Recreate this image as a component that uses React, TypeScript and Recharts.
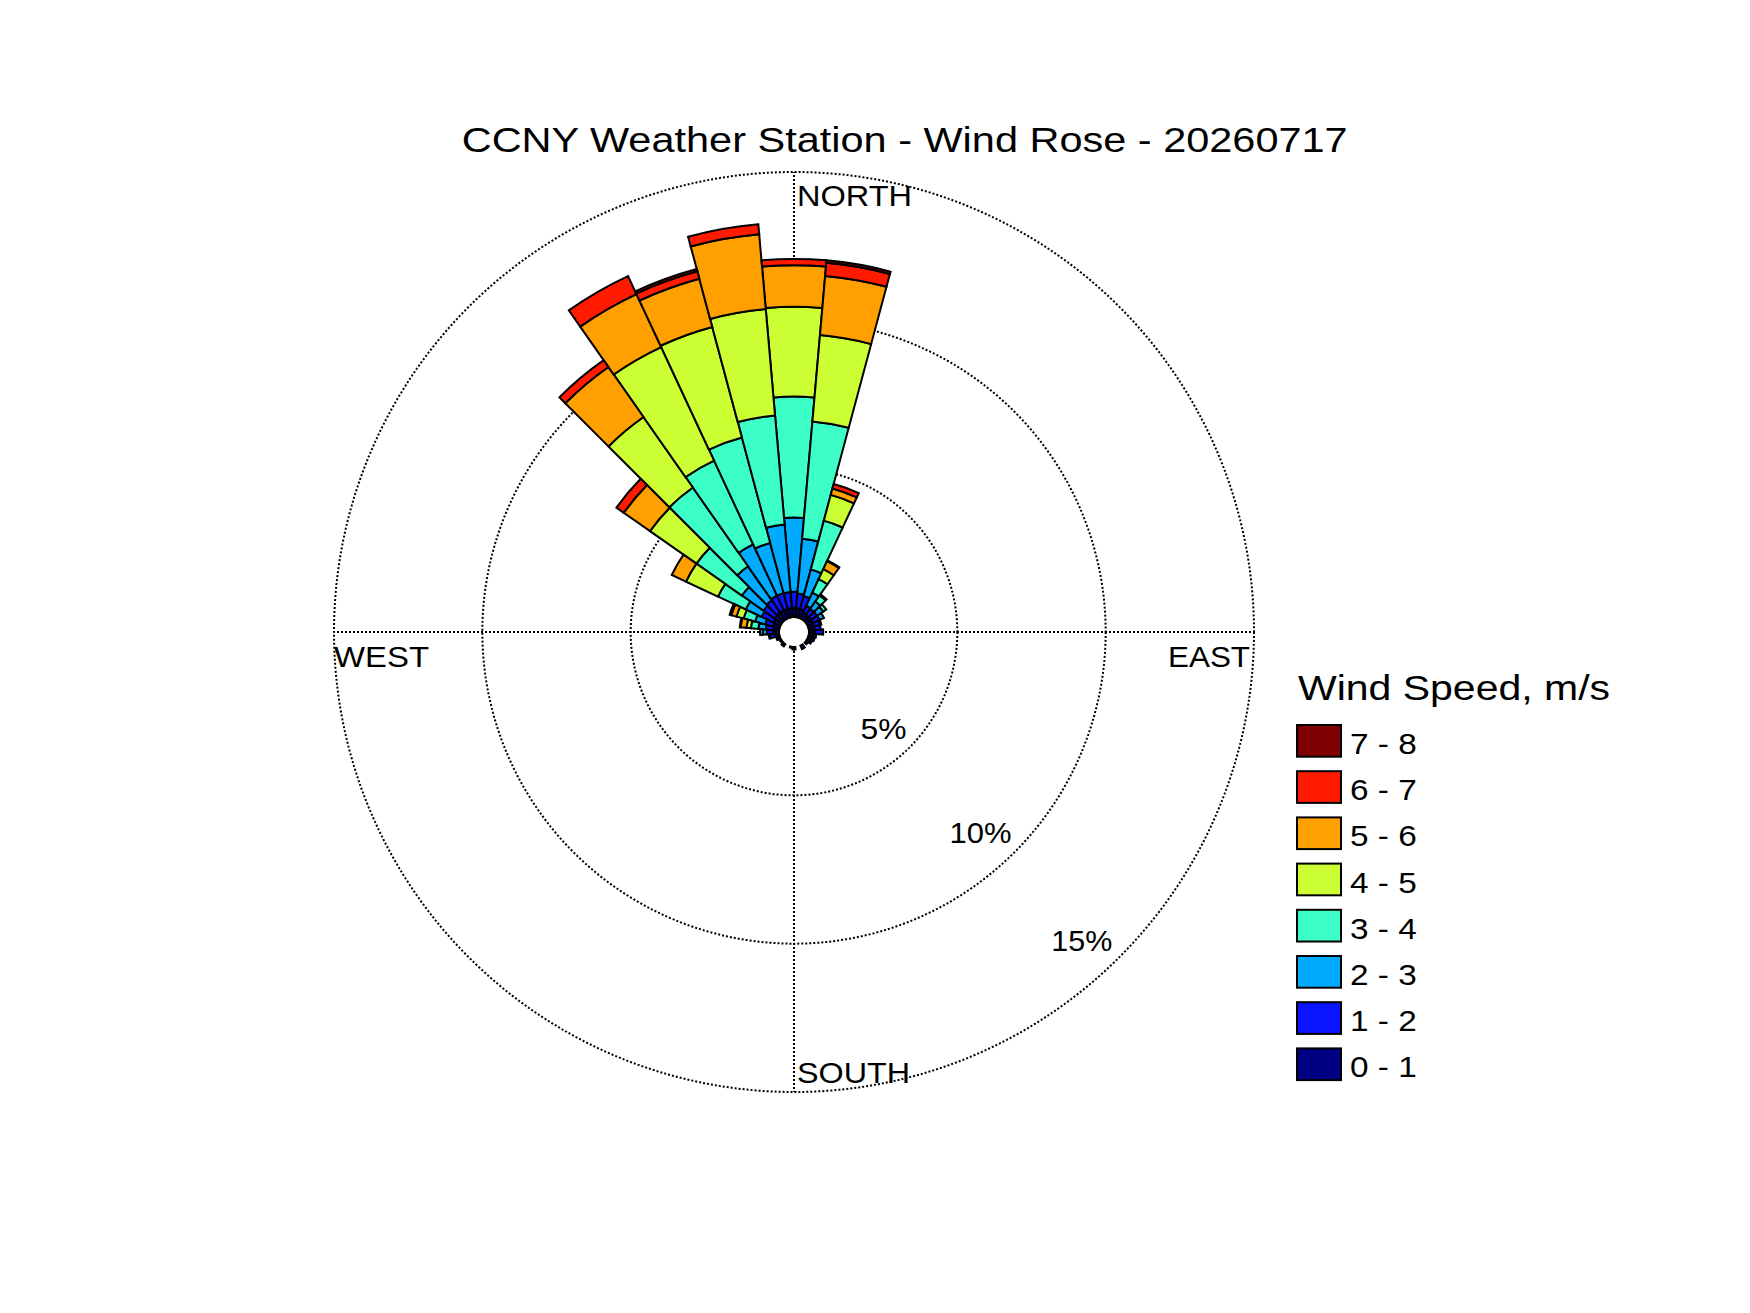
import React from 'react';
import { RadialBarChart, RadialBar, PolarAngleAxis, PolarRadiusAxis, PolarGrid, Sector } from 'recharts';

// Wind direction sectors (degrees clockwise from north)
const directions = ['0','10','20','30','40','50','60','70','80','90','100','110','120','130','140','150','160','170','180','190','200','210','220','230','240','250','260','270','280','290','300','310','320','330','340','350'];

// Frequency (%) per wind-speed bin, one value per direction
const speed0to1 = [0.30,0.30,0.30,0.22,0.20,0.20,0.20,0.20,0.20,0.20,0.15,0.15,0.12,0.08,0,0.13,0,0,0.09,0.04,0,0,0.09,0.04,0.05,0.10,0.15,0.20,0.20,0.22,0.25,0.28,0.30,0.30,0.30,0.30];
const speed1to2 = [0.55,0.50,0.45,0.25,0.25,0.25,0.25,0.20,0.20,0.28,0.10,0.07,0.05,0,0,0,0,0,0,0,0,0,0,0,0,0.02,0.15,0.20,0.25,0.28,0.45,0.47,0.50,0.55,0.55,0.55];
const speed2to3 = [2.50,1.85,0.93,0.49,0.30,0.25,0.16,0.05,0,0,0,0,0,0,0,0,0,0,0,0,0,0,0,0,0,0,0.05,0.15,0.25,0.35,0.59,0.89,1.40,1.90,1.75,2.28];
const speed3to4 = [4.08,3.97,1.70,0.50,0.25,0.12,0,0,0,0,0,0,0,0,0,0,0,0,0,0,0,0,0,0,0,0,0,0.09,0.25,0.40,1.03,1.87,3.24,3.12,3.68,3.69];
const speed4to5 = [3.03,2.92,0.90,0.37,0.05,0,0,0,0,0,0,0,0,0,0,0,0,0,0,0,0,0,0,0,0,0,0,0,0.15,0.25,1.19,1.91,2.90,4.22,3.86,3.60];
const speed5to6 = [1.40,2.00,0.22,0.30,0,0,0,0,0,0,0,0,0,0,0,0,0,0,0,0,0,0,0,0,0,0,0,0,0.20,0.18,0.53,1.08,2.06,1.97,1.68,2.53];
const speed6to7 = [0.21,0.45,0.16,0.03,0,0,0,0,0,0,0,0,0,0,0,0,0,0,0,0,0,0,0,0,0,0,0,0,0.03,0.06,0,0.30,0.28,0.67,0.26,0.34];
const speed7to8 = [0,0.08,0,0,0,0,0,0,0,0,0,0,0,0,0,0,0,0,0,0,0,0,0,0,0,0,0,0,0,0,0,0,0,0,0.08,0];

const binKeys = ['s01','s12','s23','s34','s45','s56','s67','s78'];
const binLabels = ['0 - 1','1 - 2','2 - 3','3 - 4','4 - 5','5 - 6','6 - 7','7 - 8'];
const binColors = ['#000082','#0A14FF','#00AAFF','#3CFFC8','#CCFF33','#FFA000','#FF1A00','#7F0000'];
const binSeries = [speed0to1, speed1to2, speed2to3, speed3to4, speed4to5, speed5to6, speed6to7, speed7to8];

const radiusTicks = [5, 10, 15];
const compassAngles = [90, 0, -90, 180];

const data = directions.map((dir, i) => {
  const row: Record<string, number | string> = { dir };
  binKeys.forEach((k, j) => { row[k] = binSeries[j][i]; });
  return row;
});

const FONT = "'Liberation Sans', Arial, Helvetica, sans-serif";
const LABEL_ANGLE = -47;
const pctWidths: Record<number, number> = { 5: 46, 10: 62, 15: 61 };
const pctInset: Record<number, number> = { 5: 32, 10: 38, 15: 38 };

const renderSector = (props: any) => {
  if (!props || !(props.outerRadius - props.innerRadius > 0.01)) return <g />;
  return (
    <Sector
      cx={props.cx}
      cy={props.cy}
      innerRadius={props.innerRadius}
      outerRadius={props.outerRadius}
      startAngle={props.startAngle}
      endAngle={props.endAngle}
      fill={props.fill}
      stroke="#000"
      strokeWidth={2}
      strokeLinejoin="miter"
    />
  );
};

const renderPctTick = (props: any) => {
  const { x, y, payload } = props;
  const v = payload && payload.value;
  if (!v) return <g />;
  // unit vector from the centre towards the tick, in screen coordinates
  const ux = Math.cos((LABEL_ANGLE * Math.PI) / 180);
  const uy = -Math.sin((LABEL_ANGLE * Math.PI) / 180);
  const inset = pctInset[v] || 37;
  const tx = x - inset * ux;
  const ty = y - inset * uy;
  return (
    <text x={tx} y={ty} dy="0.35em" textAnchor="middle" fontFamily={FONT} fontSize={30} fill="#000"
      textLength={pctWidths[v] || undefined} lengthAdjust="spacingAndGlyphs">
      {`${v}%`}
    </text>
  );
};

export default function App() {
  return (
    <div style={{ position: 'relative', width: 1750, height: 1313, background: '#fff' }}>
      <style>{'body{margin:0;}'}</style>
      <RadialBarChart
        width={1750}
        height={1313}
        data={data}
        layout="centric"
        cx={794}
        cy={632}
        innerRadius={15}
        outerRadius={460}
        startAngle={85}
        endAngle={-275}
        barCategoryGap={0}
        margin={{ top: 0, right: 0, bottom: 0, left: 0 }}
      >
        <PolarGrid gridType="circle" polarAngles={compassAngles} stroke="#000" strokeWidth={2} strokeDasharray="2 2" />
        <PolarAngleAxis dataKey="dir" type="category" tick={false} axisLine={false} tickLine={false} />
        <PolarRadiusAxis type="number" domain={[0, 15]} ticks={radiusTicks as any} angle={LABEL_ANGLE} axisLine={false} tickLine={false} tick={renderPctTick} />
        {binKeys.map((k, j) => (
          <RadialBar
            key={k}
            dataKey={k}
            name={binLabels[j]}
            stackId="wind"
            fill={binColors[j]}
            stroke="#000"
            strokeWidth={2}
            shape={renderSector}
            isAnimationActive={false}
          />
        ))}
      </RadialBarChart>
      <svg width={1750} height={1313} style={{ position: 'absolute', left: 0, top: 0, pointerEvents: 'none' }}>
        <text x={461.7} y={151.7} fontFamily={FONT} fontSize={35} textLength={886} lengthAdjust="spacingAndGlyphs">
          CCNY Weather Station - Wind Rose - 20260717
        </text>
        <text x={797} y={206} fontFamily={FONT} fontSize={30} textLength={115} lengthAdjust="spacingAndGlyphs">NORTH</text>
        <text x={797} y={1083} fontFamily={FONT} fontSize={30} textLength={113} lengthAdjust="spacingAndGlyphs">SOUTH</text>
        <text x={334} y={667} fontFamily={FONT} fontSize={30} textLength={95} lengthAdjust="spacingAndGlyphs">WEST</text>
        <text x={1168} y={667} fontFamily={FONT} fontSize={30} textLength={82} lengthAdjust="spacingAndGlyphs">EAST</text>
        <text x={1298} y={700} fontFamily={FONT} fontSize={35} textLength={312} lengthAdjust="spacingAndGlyphs">Wind Speed, m/s</text>
        {binLabels.map((lab, j) => {
          const i = binLabels.length - 1 - j;
          const top = 725 + 46.2 * i;
          return (
            <g key={lab}>
              <rect x={1297} y={top} width={44} height={31.7} fill={binColors[j]} stroke="#000" strokeWidth={2} />
              <text x={1350} y={top + 29} fontFamily={FONT} fontSize={30} textLength={66.7} lengthAdjust="spacingAndGlyphs">{lab}</text>
            </g>
          );
        })}
      </svg>
    </div>
  );
}
